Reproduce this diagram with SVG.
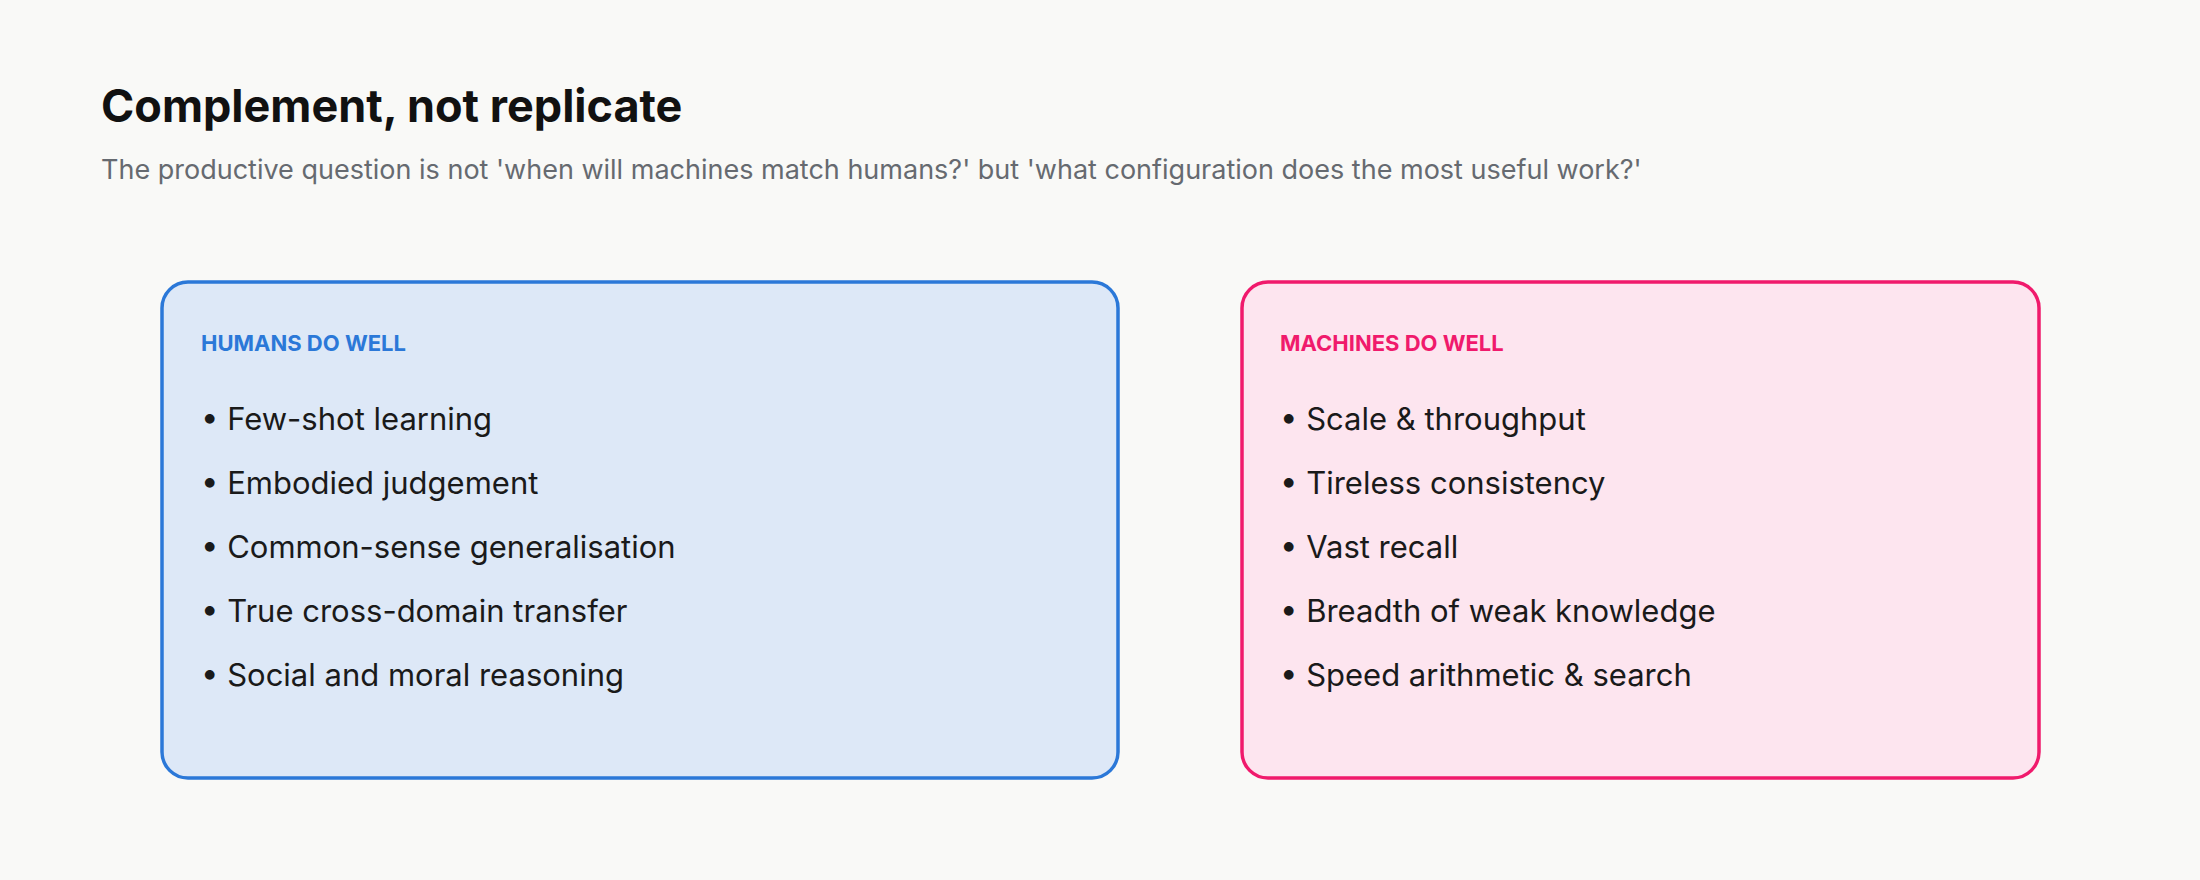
<svg xmlns="http://www.w3.org/2000/svg" width="2200" height="880" viewBox="0 0 2200 880">
<style>
text{font-family:Inter,"Noto Sans","Liberation Sans",sans-serif}
.t{font-size:45px;font-weight:700;fill:#111}
.s{font-size:27px;fill:#666a70}
.h{font-size:22px;font-weight:700}
.b{font-size:31px;fill:#1a1a1a}
</style>
<rect width="2200" height="880" fill="#f9f9f7"/>
<text class="t" x="101" y="122">Complement, not replicate</text>
<text class="s" x="101" y="179">The productive question is not 'when will machines match humans?' but 'what configuration does the most useful work?'</text>
<g id="humans">
<rect x="162" y="282" width="956" height="496" rx="26" fill="#dde8f7" stroke="#2b78d8" stroke-width="3.5"/>
<text class="h" x="201" y="351" fill="#2b78d8">HUMANS DO WELL</text>
<text class="b" x="201" y="430">• Few-shot learning</text>
<text class="b" x="201" y="494">• Embodied judgement</text>
<text class="b" x="201" y="558">• Common-sense generalisation</text>
<text class="b" x="201" y="622">• True cross-domain transfer</text>
<text class="b" x="201" y="686">• Social and moral reasoning</text>
</g>
<g id="machines">
<rect x="1242" y="282" width="797" height="496" rx="26" fill="#fde5ef" stroke="#f01a6c" stroke-width="3.5"/>
<text class="h" x="1280" y="351" fill="#f01a6c">MACHINES DO WELL</text>
<text class="b" x="1280" y="430">• Scale &amp; throughput</text>
<text class="b" x="1280" y="494">• Tireless consistency</text>
<text class="b" x="1280" y="558">• Vast recall</text>
<text class="b" x="1280" y="622">• Breadth of weak knowledge</text>
<text class="b" x="1280" y="686">• Speed arithmetic &amp; search</text>
</g>
<g id="connectors"/>
</svg>
